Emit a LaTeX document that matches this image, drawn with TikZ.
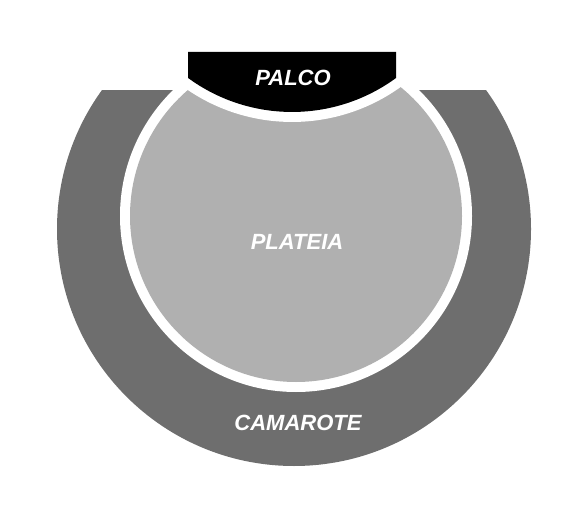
\documentclass[tikz,border=0pt]{standalone}
\usepackage{fontspec}
\setmainfont{Liberation Sans}
\definecolor{camgray}{RGB}{110,110,110}
\definecolor{platgray}{RGB}{176,176,176}
\begin{document}
\begin{tikzpicture}[x=1pt,y=-1pt,
  lbl/.style={text=white,font=\fontsize{22}{22}\selectfont\bfseries\itshape,inner sep=0pt}]
\useasboundingbox (0,0) rectangle (575,518);
\fill[white] (0,0) rectangle (575,518);
% camarote
\begin{scope}
  \clip (0,91) rectangle (575,518);
  \fill[camgray] (294,229) circle[radius=237pt];
\end{scope}
% white ring and plateia
\fill[white] (296,216) circle[radius=176pt];
\fill[platgray] (296,216) circle[radius=166pt];
% palco with white gap
\path[draw=white,line width=20pt,line join=round,fill=black]
  (188,52) -- (396,52) -- (396,78) arc[start angle=-53.8,end angle=-126.2,radius=176pt] -- cycle;
\fill[black]
  (188,52) -- (396,52) -- (396,78) arc[start angle=-53.8,end angle=-126.2,radius=176pt] -- cycle;
\node[lbl] (palco) at (293,78) {PALCO};
\node[lbl] (plateia) at (297,242) {PLATEIA};
\node[lbl] (camarote) at (298,423) {CAMAROTE};
\end{tikzpicture}
\end{document}
